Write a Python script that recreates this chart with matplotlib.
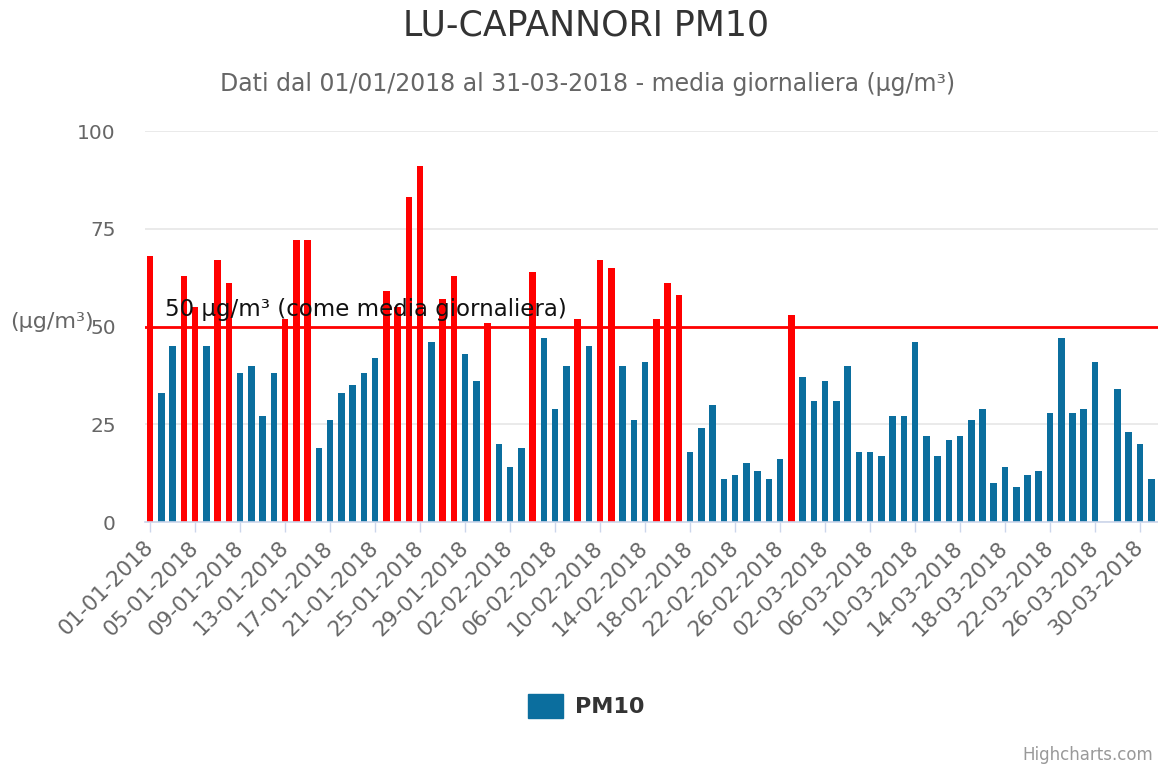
"""LU-CAPANNORI PM10 daily means, Q1 2018 (Highcharts-style column chart)."""
import matplotlib
matplotlib.use('Agg')
import matplotlib.pyplot as plt
from matplotlib.patches import Patch
import numpy as np
import pandas as pd

# Daily PM10 means (µg/m³); 27-03 has no data
jan = [68, 33, 45, 63, 55, 45, 67, 61, 38, 40, 27, 38, 52, 72, 72, 19,
       26, 33, 35, 38, 42, 59, 55, 83, 91, 46, 57, 63, 43, 36, 51]
feb = [20, 14, 19, 64, 47, 29, 40, 52, 45, 67, 65, 40, 26, 41, 52, 61,
       58, 18, 24, 30, 11, 12, 15, 13, 11, 16, 53, 37]
mar = [31, 36, 31, 40, 18, 18, 17, 27, 27, 46, 22, 17, 21, 22, 26, 29,
       10, 14, 9, 12, 13, 28, 47, 28, 29, 41, np.nan, 34, 23, 20, 11]
pm10 = np.array(jan + feb + mar, dtype=float)

dates = pd.date_range('2018-01-01', '2018-03-31', freq='D')
date_labels = [d.strftime('%d-%m-%Y') for d in dates]
threshold = 50

blue = '#0b6e9e'
red = '#ff0000'

fig = plt.figure(figsize=(11.58, 7.67), dpi=100)
ax = fig.add_axes([145 / 1158, 245 / 767, 1013 / 1158, 391 / 767])

x = np.arange(len(pm10))
colors = [red if v > threshold else blue for v in np.nan_to_num(pm10)]
ax.bar(x, np.nan_to_num(pm10), width=0.58, color=colors, zorder=3)

# threshold line + label
ax.axhline(threshold, color=red, linewidth=2, zorder=4)
ax.text(1.35, threshold + 1.3, '50 µg/m³ (come media giornaliera)',
        fontsize=16.5, color='#111111', ha='left', va='bottom', zorder=5)

ax.set_xlim(-0.45, 89.6)
ax.set_ylim(0, 100)
ax.set_yticks([0, 25, 50, 75, 100])
ax.grid(axis='y', color='#e6e6e6', linewidth=1.2, zorder=0)
ax.tick_params(axis='y', length=0, labelsize=14.5, labelcolor='#666666', pad=21)

ticks = x[::4]
ax.set_xticks(ticks)
ax.set_xticklabels([date_labels[i] for i in ticks], rotation=45, ha='right',
                   va='center', rotation_mode='anchor', fontsize=15.5,
                   color='#666666')
ax.tick_params(axis='x', length=7, width=1, color='#ccd6eb', pad=9)

for s in ['top', 'right', 'left']:
    ax.spines[s].set_visible(False)
ax.spines['bottom'].set_color('#ccd6eb')
ax.spines['bottom'].set_linewidth(1.2)
ax.spines['bottom'].set_zorder(4)

# y-axis title drawn horizontally at the left edge
fig.text(10 / 1158, 1 - 322 / 767, '(µg/m³)', fontsize=16, color='#666666',
         ha='left', va='center')

fig.text(586 / 1158, 1 - 26 / 767, 'LU-CAPANNORI PM10', fontsize=25,
         color='#333333', ha='center', va='center')
fig.text(588 / 1158, 1 - 84 / 767,
         'Dati dal 01/01/2018 al 31-03-2018 - media giornaliera (µg/m³)',
         fontsize=17, color='#666666', ha='center', va='center')

fig.legend(handles=[Patch(color=blue)], labels=['PM10'], loc='center',
           bbox_to_anchor=(586 / 1158, 1 - 706 / 767), frameon=False,
           prop={'size': 16, 'weight': 'bold'}, handlelength=1.6,
           handleheight=1.3, handletextpad=0.5, labelcolor='#333333')

fig.text(1153 / 1158, 1 - 755 / 767, 'Highcharts.com', fontsize=12,
         color='#999999', ha='right', va='center')

plt.savefig('out.png', dpi=100)
